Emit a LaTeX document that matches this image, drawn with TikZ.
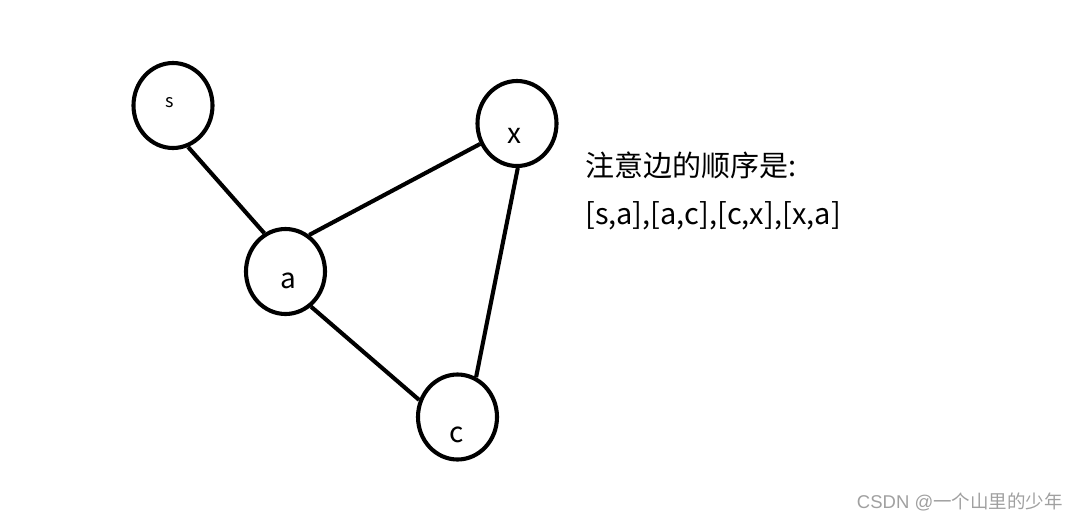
\documentclass[tikz,border=0pt]{standalone}
\usepackage{fontspec}
\setmainfont{Noto Sans CJK SC}
\newfontfamily\wmlat{Liberation Sans}
\usetikzlibrary{shapes.geometric}
\definecolor{wmgray}{HTML}{A0A0A0}
\begin{document}
\begin{tikzpicture}[x=1pt,y=-1pt,
  vertex/.style={draw, ellipse, line width=4.1pt, minimum width=79pt, minimum height=85pt, inner sep=0pt},
  edge/.style={line width=4.1pt},
  lbl/.style={inner sep=0pt, font=\fontsize{28}{32}\selectfont},
  txt/.style={inner sep=0pt, anchor=west, font=\fontsize{29}{34}\selectfont}]
\useasboundingbox (0,0) rectangle (1081,522);
\node[vertex] (s) at (173,105.5) {};
\node[vertex] (x) at (517,123.5) {};
\node[vertex] (a) at (285.5,271.5) {};
\node[vertex] (c) at (457.5,417) {};
\node[lbl, font=\fontsize{18}{20}\selectfont] (ls) at (170,103) {s};
\node[lbl] (lx) at (514,136) {x};
\node[lbl] (la) at (288,281) {a};
\node[lbl] (lc) at (457,435) {c};
\draw[edge] (s.-70) -- (a.119);
\draw[edge] (a.57) -- (x.209);
\draw[edge] (a.-54) -- (c.156);
\draw[edge] (x.-89) -- (c.65);
\node[txt] (t1) at (585,165) {注意边的顺序是:};
\node[txt] (t2) at (585,216) {[s,a],[a,c],[c,x],[x,a]};
\node[inner sep=0pt, anchor=east, text=wmgray, font=\fontsize{18.5}{20}\selectfont] (wm) at (1063,502) {{\wmlat CSDN @}一个山里的少年};
\end{tikzpicture}
\end{document}
